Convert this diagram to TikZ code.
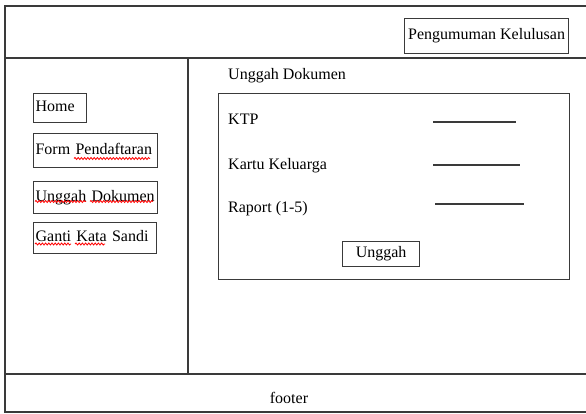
\documentclass[tikz,border=0pt]{standalone}
\usepackage{fontspec}
\setmainfont{Liberation Serif}
\usetikzlibrary{decorations.pathmorphing}
\definecolor{edge}{HTML}{3A3A3A}
\tikzset{
  frame/.style={draw=edge, line width=1.4pt},
  menubox/.style={draw=edge, line width=1.2pt, anchor=north west,
    inner xsep=2pt, inner ysep=0pt, text width=#1, align=left,
    text height=11pt, text depth=4pt},
  btnbox/.style={draw=edge, line width=1.2pt, anchor=north west, inner sep=0pt,
    text height=11pt, text depth=4pt},
  label/.style={anchor=base west, inner sep=0pt},
  field/.style={draw=edge, line width=1.3pt},
  spell/.style={draw=red, line width=0.8pt,
    decorate, decoration={snake, amplitude=1pt, segment length=3.2pt}}
}
\begin{document}
\begin{tikzpicture}[x=1pt, y=-1pt, font=\fontsize{16}{19}\selectfont]
\useasboundingbox (0,0) rectangle (586,414);

% page layout: outer frame, header, footer, sidebar divider
\draw[frame] (5,6) rectangle (600,412);
\draw[frame] (5,58) -- (600,58);
\draw[frame] (5,374) -- (600,374);
\draw[frame] (188,58) -- (188,374);

% header
\node[btnbox, minimum width=164pt, minimum height=35pt] (announce) at (404,18) {Pengumuman Kelulusan};

% sidebar menu
\node[menubox=49pt, minimum height=29pt] (home) at (33,93) {Home};
\node[menubox=120pt, minimum height=34pt] (form) at (33,133) {Form Pendaftaran};
\node[menubox=120pt, minimum height=32pt] (upload) at (33,181) {Unggah Dokumen};
\node[menubox=119pt, minimum height=31pt] (passwd) at (33,222) {Ganti Kata Sandi};

% spell-check squiggles under the menu words
\draw[spell] (74,158.5) -- (150,158.5);
\draw[spell] (35,201.5) -- (86,201.5);
\draw[spell] (90,201.5) -- (153,201.5);
\draw[spell] (35,244) -- (71,244);
\draw[spell] (75,244) -- (105,244);

% content: upload form
\node[label] (title) at (228,80) {Unggah Dokumen};
\node[btnbox, minimum width=351pt, minimum height=186pt] (panel) at (218,93) {};

\node[label] (ktp) at (228,125) {KTP};
\node[label] (kk) at (228,170) {Kartu Keluarga};
\node[label] (raport) at (228,212) {Raport (1-5)};

\coordinate (ktpA) at (433,122);    \coordinate (ktpB) at (516,122);
\coordinate (kkA) at (433,165);     \coordinate (kkB) at (520,165);
\coordinate (raportA) at (435,204); \coordinate (raportB) at (524,204);
\draw[field] (ktpA) -- (ktpB);
\draw[field] (kkA) -- (kkB);
\draw[field] (raportA) -- (raportB);

\node[btnbox, minimum width=77pt, minimum height=25pt] (send) at (342,241) {Unggah};

% footer
\node[anchor=base, inner sep=0pt] (footer) at (289,403) {footer};
\end{tikzpicture}
\end{document}
